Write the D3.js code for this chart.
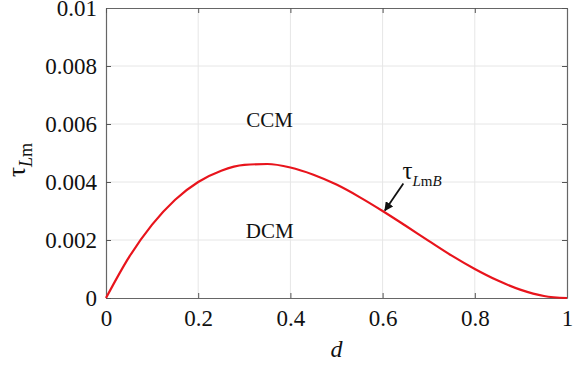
<!DOCTYPE html>
<html>
<head>
<meta charset="utf-8">
<script src="https://cdn.jsdelivr.net/npm/d3@7"></script>
<style>
  body { margin: 0; background: #fff; }
  svg text { font-family: "Liberation Serif", "DejaVu Serif", serif; }
</style>
</head>
<body>
<svg width="576" height="367"></svg>
<script>
// data
const dVals = [0, 0.05, 0.1, 0.15, 0.2, 0.25, 0.3, 0.35, 0.4, 0.45, 0.5,
               0.55, 0.6, 0.65, 0.7, 0.75, 0.8, 0.85, 0.9, 0.95, 1];
const tauVals = [0, 0.00141, 0.00253, 0.00339, 0.00400, 0.00439, 0.00459, 0.00462, 0.00450, 0.00425, 0.00391,
                 0.00348, 0.00300, 0.00249, 0.00197, 0.00146, 0.00100, 0.00060, 0.00028, 0.00007, 0];
const xTicks = [0, 0.2, 0.4, 0.6, 0.8, 1];
const xTickLabels = ["0", "0.2", "0.4", "0.6", "0.8", "1"];
const yTicks = [0, 0.002, 0.004, 0.006, 0.008, 0.01];
const yTickLabels = ["0", "0.002", "0.004", "0.006", "0.008", "0.01"];

const svg = d3.select("svg");
const margin = {left: 106, right: 9, top: 8, bottom: 69};
const width = 576 - margin.left - margin.right,
      height = 367 - margin.top - margin.bottom;

const x = d3.scaleLinear().domain([0, 1]).range([0, width]);
const y = d3.scaleLinear().domain([0, 0.01]).range([height, 0]);

const g = svg.append("g").attr("transform", `translate(${margin.left},${margin.top})`);

// grid
g.append("g").selectAll("line").data(xTicks.slice(1, -1)).join("line")
    .attr("x1", d => x(d)).attr("x2", d => x(d))
    .attr("y1", 0).attr("y2", height)
    .attr("stroke", "#e6e6e6").attr("stroke-width", 1);
g.append("g").selectAll("line").data(yTicks.slice(1, -1)).join("line")
    .attr("y1", d => y(d)).attr("y2", d => y(d))
    .attr("x1", 0).attr("x2", width)
    .attr("stroke", "#e6e6e6").attr("stroke-width", 1);

// axes (ticks pointing inward, box on all sides)
const styleAxis = sel => {
  sel.attr("font-family", "Liberation Serif").attr("font-size", 23);
  sel.select(".domain").attr("stroke", "#666").attr("stroke-width", 1.2);
  sel.selectAll(".tick line").attr("stroke", "#555");
  sel.selectAll(".tick text").attr("fill", "#111");
};

g.append("g").attr("transform", `translate(0,${height})`)
  .call(d3.axisBottom(x).tickValues(xTicks).tickFormat((d, i) => xTickLabels[i])
        .tickSizeInner(-5).tickSizeOuter(0).tickPadding(12))
  .call(styleAxis);
g.append("g")
  .call(d3.axisLeft(y).tickValues(yTicks).tickFormat((d, i) => yTickLabels[i])
        .tickSizeInner(-5).tickSizeOuter(0).tickPadding(9))
  .call(styleAxis);
g.append("g")
  .call(d3.axisTop(x).tickValues(xTicks).tickFormat("").tickSizeInner(-5).tickSizeOuter(0))
  .call(styleAxis);
g.append("g").attr("transform", `translate(${width},0)`)
  .call(d3.axisRight(y).tickValues(yTicks).tickFormat("").tickSizeInner(-5).tickSizeOuter(0))
  .call(styleAxis);

// curve
const line = d3.line().x((d, i) => x(dVals[i])).y(d => y(d)).curve(d3.curveMonotoneX);
g.append("path").datum(tauVals)
  .attr("d", line)
  .attr("fill", "none")
  .attr("stroke", "#e8141c")
  .attr("stroke-width", 2.2);

// region labels
g.append("text").attr("x", x(0.355)).attr("y", y(0.0059))
  .attr("text-anchor", "middle").style("font-size", "21px").attr("fill", "#111").text("CCM");
g.append("text").attr("x", x(0.355)).attr("y", y(0.00207))
  .attr("text-anchor", "middle").style("font-size", "21px").attr("fill", "#111").text("DCM");

// annotation tau_LmB with arrow
const ann = g.append("text").attr("x", x(0.643)).attr("y", y(0.00412))
  .style("font-size", "25px").attr("fill", "#111");
ann.append("tspan").text("τ");
ann.append("tspan").attr("dy", 7).style("font-size", "15px").style("font-style", "italic").text("L");
ann.append("tspan").style("font-size", "15px").text("m");
ann.append("tspan").style("font-size", "15px").style("font-style", "italic").text("B");

svg.append("defs").append("marker")
  .attr("id", "arrow").attr("viewBox", "0 0 10 10")
  .attr("refX", 9).attr("refY", 5)
  .attr("markerWidth", 5).attr("markerHeight", 5)
  .attr("orient", "auto")
  .append("path").attr("d", "M0,0 L10,5 L0,10 Z").attr("fill", "#111");
g.append("line")
  .attr("x1", x(0.645)).attr("y1", y(0.00395))
  .attr("x2", x(0.605)).attr("y2", y(0.00302))
  .attr("stroke", "#111").attr("stroke-width", 1.8)
  .attr("marker-end", "url(#arrow)");

// axis titles
const yl = svg.append("text")
  .attr("transform", "translate(25,160) rotate(-90)")
  .attr("text-anchor", "middle").style("font-size", "25px").attr("fill", "#111");
yl.append("tspan").text("τ");
yl.append("tspan").attr("dy", 7).style("font-size", "18px").style("font-style", "italic").text("L");
yl.append("tspan").style("font-size", "18px").text("m");

svg.append("text").attr("x", margin.left + x(0.5)).attr("y", 357)
  .attr("text-anchor", "middle").style("font-size", "24px").style("font-style", "italic")
  .attr("fill", "#111").text("d");
</script>
</body>
</html>
